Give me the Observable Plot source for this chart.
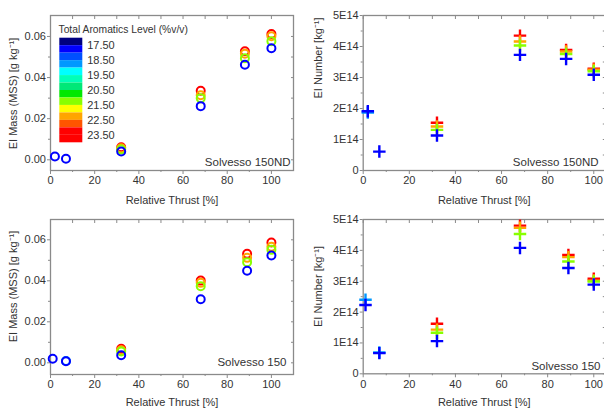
<!DOCTYPE html>
<html><head><meta charset="utf-8">
<script src="https://cdn.jsdelivr.net/npm/d3@7"></script>
<script src="https://cdn.jsdelivr.net/npm/@observablehq/plot@0.6"></script>
<style>
html,body{margin:0;padding:0;background:#fff;overflow:hidden;}
#fig{position:relative;width:604px;height:409px;overflow:hidden;background:#fff;}
#fig svg{position:absolute;}
</style></head><body><div id="fig"></div>
<script>
// ---------- data ----------
const thrust150ND = [2, 7, 32, 68, 88, 100];
const thrust150 = [1, 7, 32, 68, 89, 100];
// aromatics level of each series (drawing order: red, orange, green, cyan, blue)
const seriesLevels = [23.6, 22.2, 21.2, 18.7, 17.7];

// EI Mass (MSS), Solvesso 150ND [g/kg]
const massND_red    = [null, null, 0.0061, 0.0336, 0.0528, 0.0612];
const massND_orange = [null, null, 0.0056, 0.0314, 0.0516, 0.0601];
const massND_green  = [null, null, 0.0050, 0.0300, 0.0494, 0.0577];
const massND_cyan   = [null, null, null, null, null, null];
const massND_blue   = [0.0016, 0.0005, 0.0040, 0.0261, 0.0462, 0.0543];

// EI Number, Solvesso 150ND [1/kg]
const numND_red    = [null, null, 1.54e14, 4.35e14, 3.89e14, 3.28e14];
const numND_orange = [null, null, 1.42e14, 4.16e14, 3.84e14, 3.25e14];
const numND_green  = [null, null, 1.31e14, 4.03e14, 3.76e14, 3.20e14];
const numND_cyan   = [1.87e14, null, null, null, null, null];
const numND_blue   = [1.91e14, 0.61e14, 1.13e14, 3.73e14, 3.60e14, 3.09e14];

// EI Mass (MSS), Solvesso 150 [g/kg]
const mass150_red    = [null, null, 0.0068, 0.0401, 0.0532, 0.0587];
const mass150_orange = [null, null, 0.0061, 0.0390, 0.0512, 0.0566];
const mass150_green  = [null, null, 0.0055, 0.0374, 0.0491, 0.0551];
const mass150_cyan   = [null, 0.0009, null, null, null, null];
const mass150_blue   = [0.0020, 0.0008, 0.0037, 0.0310, 0.0449, 0.0523];

// EI Number, Solvesso 150 [1/kg]
const num150_red    = [null, null, 1.62e14, 4.80e14, 3.85e14, 3.08e14];
const num150_orange = [null, null, 1.43e14, 4.73e14, 3.78e14, 3.02e14];
const num150_green  = [null, null, 1.33e14, 4.53e14, 3.64e14, 2.99e14];
const num150_cyan   = [2.40e14, 0.69e14, null, null, null, null];
const num150_blue   = [2.23e14, 0.67e14, 1.06e14, 4.08e14, 3.43e14, 2.89e14];

// colour legend
const legendTitle = "Total Aromatics Level (%v/v)";
const legendRange = [17, 24];
const legendThresholds = [17.5, 18, 18.5, 19, 19.5, 20, 20.5, 21, 21.5, 22, 22.5, 23, 23.5];
const legendColors = ["#000080", "#0000ff", "#0050ff", "#0098ff", "#00ffff", "#00ffb8", "#00e878",
                      "#00e800", "#88ff00", "#ffff00", "#ffa500", "#ff5500", "#ff0000", "#ff0000"];
const legendTicks = [17.5, 18.5, 19.5, 20.5, 21.5, 22.5, 23.5];

// ticks
const xMajor = [0, 20, 40, 60, 80, 100];
const xMinor = [10, 30, 50, 70, 90];
const xTop = [0, 10, 20, 30, 40, 50, 60, 70, 80, 90, 100];
const massMajor = [0, 0.02, 0.04, 0.06];
const massMinor = [0.01, 0.03, 0.05];
const massRight = [0, 0.01, 0.02, 0.03, 0.04, 0.05, 0.06];
const numMajor = [0, 1e14, 2e14, 3e14, 4e14, 5e14];
const numMinor = [0.5e14, 1.5e14, 2.5e14, 3.5e14, 4.5e14];

const xLabel = "Relative Thrust [%]";
const massLabel = "EI Mass (MSS) [g kg\u207B\u00B9]";
const numLabel = "EI Number [kg\u207B\u00B9]";

// ---------- drawing ----------
const FONT = "'Liberation Sans', Arial, sans-serif";
const TXT = "#333";
const GRAY = "#8a8a8a";
const colorScale = {type: "threshold", domain: legendThresholds, range: legendColors};
const fig = document.getElementById("fig");

function rows(thrust, series) {
  const out = [];
  series.forEach((vals, i) => vals.forEach((v, j) => {
    if (v != null) out.push({x: thrust[j], y: v, level: seriesLevels[i]});
  }));
  return out;
}
const fmtMass = d => d.toFixed(2);
const fmtNum = d => d === 0 ? "0" : (d / 1e14) + "E14";

function panel(o) {
  const p = Plot.plot({
    width: o.width, height: o.height,
    marginLeft: o.ml, marginRight: o.mr, marginTop: o.mt, marginBottom: o.mb,
    style: {fontFamily: FONT, fontSize: "11px", background: "transparent", overflow: "visible", color: TXT},
    x: {domain: o.xDomain},
    y: {domain: o.yDomain},
    color: colorScale,
    marks: [
      Plot.axisY({ticks: o.yMajor, tickSize: 3, tickPadding: 1.5, tickFormat: o.yFormat, stroke: GRAY, fill: TXT, label: null, fontSize: 11}),
      Plot.axisY({ticks: o.yMinor, tickSize: 2, text: null, stroke: GRAY, label: null}),
      Plot.axisY({ticks: o.yRight, anchor: "right", tickSize: -3, text: null, stroke: GRAY, label: null}),
      Plot.axisX({ticks: xMajor, tickSize: 4, tickPadding: 2, stroke: GRAY, fill: TXT, label: null, fontSize: 11}),
      Plot.axisX({ticks: xMinor, tickSize: 2, text: null, stroke: GRAY, label: null}),
      Plot.axisX({ticks: xTop, anchor: "top", tickSize: -3, text: null, stroke: GRAY, label: null}),
      Plot.frame({stroke: GRAY, strokeWidth: 1.3}),
      Plot.dot(o.data, {x: "x", y: "y", stroke: "level", symbol: o.symbol, r: o.r, strokeWidth: o.sw}),
      Plot.text([xLabel], {text: d => d, frameAnchor: "bottom", textAnchor: "middle", lineAnchor: "middle", dy: o.xlDy, fill: TXT, fontSize: 11}),
      Plot.text([o.ylabel], {text: d => d, frameAnchor: "left", textAnchor: "middle", lineAnchor: "middle", dx: o.ylDx, dy: o.ylDy, rotate: -90, fill: TXT, fontSize: 11}),
      Plot.text([o.note], {text: d => d, frameAnchor: "bottom-right", textAnchor: "end", lineAnchor: "middle", dx: o.nDx, dy: o.nDy, fill: TXT, fontSize: 11.5})
    ]
  });
  p.style.left = o.left + "px";
  p.style.top = o.top + "px";
  fig.appendChild(p);
}

panel({
  left: 0, top: 0, width: 302, height: 205, ml: 50, mr: 9, mt: 15, mb: 35,
  xDomain: [0, 110], yDomain: [-0.0052, 0.0702],
  yMajor: massMajor, yMinor: massMinor, yRight: massRight, yFormat: fmtMass,
  data: rows(thrust150ND, [massND_red, massND_orange, massND_green, massND_cyan, massND_blue]),
  symbol: "circle", r: 4, sw: 2,
  ylabel: massLabel, ylDx: -37.3, ylDy: 0.5, xlDy: 30,
  note: "Solvesso 150ND", nDx: -3, nDy: -8
});
panel({
  left: 300, top: 0, width: 320, height: 205, ml: 62.7, mr: 15.2, mt: 15, mb: 35,
  xDomain: [0, 105], yDomain: [0, 5e14],
  yMajor: numMajor, yMinor: numMinor, yRight: numMajor.concat(numMinor), yFormat: fmtNum,
  data: rows(thrust150ND, [numND_red, numND_orange, numND_green, numND_cyan, numND_blue]),
  symbol: "plus", r: 4.1, sw: 2.4,
  ylabel: numLabel, ylDx: -44.7, ylDy: -35, xlDy: 30,
  note: "Solvesso 150ND", nDx: -6.8, nDy: -8
});
panel({
  left: 0, top: 205, width: 302, height: 204, ml: 50, mr: 9, mt: 14, mb: 35,
  xDomain: [0, 110], yDomain: [-0.0057, 0.0699],
  yMajor: massMajor, yMinor: massMinor, yRight: massRight, yFormat: fmtMass,
  data: rows(thrust150, [mass150_red, mass150_orange, mass150_green, mass150_cyan, mass150_blue]),
  symbol: "circle", r: 4, sw: 2,
  ylabel: massLabel, ylDx: -37.3, ylDy: -10.5, xlDy: 27.7,
  note: "Solvesso 150", nDx: -7, nDy: -12
});
panel({
  left: 300, top: 205, width: 320, height: 204, ml: 62.7, mr: 15.2, mt: 14, mb: 35.7,
  xDomain: [0, 105], yDomain: [0, 5e14],
  yMajor: numMajor, yMinor: numMinor, yRight: numMajor.concat(numMinor), yFormat: fmtNum,
  data: rows(thrust150, [num150_red, num150_orange, num150_green, num150_cyan, num150_blue]),
  symbol: "plus", r: 4.1, sw: 2.4,
  ylabel: numLabel, ylDx: -44.7, ylDy: -10.2, xlDy: 28.4,
  note: "Solvesso 150", nDx: -4.8, nDy: -7.3
});

// colour bar legend (overlay inside the top-left panel)
const edges = [legendRange[0], ...legendThresholds, legendRange[1]];
const bands = edges.slice(0, -1).map((lo, i) => ({y1: lo, y2: edges[i + 1], v: (lo + edges[i + 1]) / 2}));
const legend = Plot.plot({
  width: 120, height: 135, marginLeft: 4.3, marginRight: 92.7, marginTop: 22.7, marginBottom: 7.7,
  style: {fontFamily: FONT, fontSize: "11px", background: "transparent", overflow: "visible", color: TXT},
  y: {domain: legendRange, reverse: true},
  color: colorScale,
  marks: [
    Plot.rect(bands, {y1: "y1", y2: "y2", fill: "v"}),
    Plot.axisY({ticks: legendTicks, anchor: "right", tickSize: 0, tickPadding: 4.4, tickFormat: d => d.toFixed(2), fill: TXT, label: null, fontSize: 11}),
    Plot.text([legendTitle], {text: d => d, frameAnchor: "top-left", textAnchor: "start", dx: -1.3, dy: -12.7, fill: TXT, fontSize: 10.3})
  ]
});
legend.style.left = "55px";
legend.style.top = "15px";
fig.appendChild(legend);
</script></body></html>
